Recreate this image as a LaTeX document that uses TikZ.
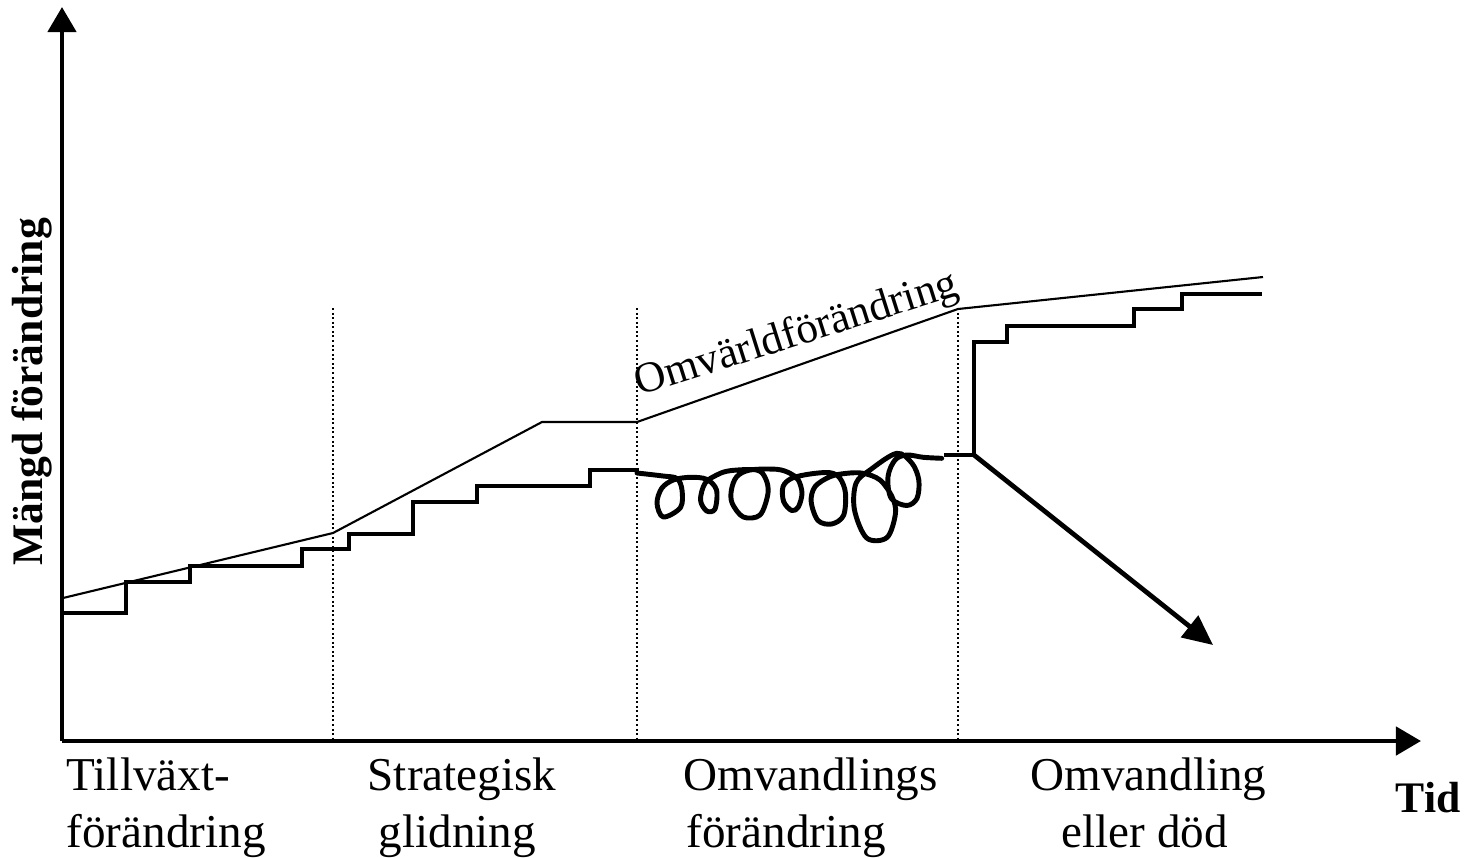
\documentclass[tikz,border=0pt]{standalone}
\usepackage{fontspec}
\setmainfont{Liberation Serif}
\usetikzlibrary{arrows.meta}
\begin{document}
\begin{tikzpicture}[x=0.01cm,y=-0.01cm,
  thickln/.style={line width=1.35pt, line join=miter},
  loopln/.style={line width=1.4pt, line join=round, line cap=round},
  thinln/.style={line width=0.6pt},
  axisln/.style={line width=1.3pt},
  dotln/.style={line width=0.45pt, dash pattern=on 0.55pt off 0.75pt},
  lbl/.style={font=\fontsize{13.4}{16}\selectfont, inner sep=0pt, anchor=base west},
  blbl/.style={font=\fontsize{12.4}{15}\selectfont\bfseries, inner sep=0pt},
  tip/.style={-{Triangle[length=0.25cm,width=0.28cm]}},
  ]
\useasboundingbox (0,0) rectangle (1472,857);

% axes
\coordinate (O) at (62,741);
\coordinate (ytop) at (62,7);
\coordinate (xend) at (1421,741);
\draw[axisln,tip] (O) -- (ytop);
\draw[axisln,tip] (O) -- (xend);

% dotted phase separators
\coordinate (d1t) at (333,308); \coordinate (d1b) at (333,740);
\coordinate (d2t) at (637,308); \coordinate (d2b) at (637,740);
\coordinate (d3t) at (958,308); \coordinate (d3b) at (958,740);
\draw[dotln] (d1t) -- (d1b);
\draw[dotln] (d2t) -- (d2b);
\draw[dotln] (d3t) -- (d3b);

% environment change line
\draw[thinln] (63,598) -- (333,533) -- (542,422) -- (637,422) -- (958,309) -- (1263,277);
\node[font=\fontsize{12.3}{14}\selectfont, inner sep=0pt, anchor=base west, rotate=17.5] (omv) at (639,396) {Omvärldförändring};

% step line (growth + strategic drift)
\draw[thickln] (63,613) -- (126,613) -- (126,582) -- (190,582) -- (190,566) -- (302,566)
  -- (302,549) -- (349,549) -- (349,534) -- (413,534) -- (413,502) -- (477,502)
  -- (477,486) -- (590,486) -- (590,470) -- (637,470) -- (637,473);

% loops (transformation change)
\draw[loopln] plot[smooth, tension=0.55] coordinates {
  (637,473) (663,476) (677,478.5) (682,490) (680.5,507.5) (663.3,517) (657,503.3)
  (661.7,488.3) (673.3,480) (690,477.3) (706.7,479.3) (716.5,490) (715,509) (706.7,511)
  (700.5,500) (705,483.3) (716.7,475) (730,470.7) (756.7,470) (765.5,478.3) (768,493.3)
  (760,515) (743.3,517) (732.2,503.3) (731.4,490) (736.7,476.7) (750,470) (776.7,469.3)
  (790,473.3) (798.3,480) (802,493.3) (798.3,507) (791.7,510.5) (783.7,501.7) (783,486.7)
  (791.7,478.3) (810,474) (830,472.7) (840,478.3) (845.5,493.3) (843.5,515.5) (831.7,524)
  (818,520.5) (811.2,501.7) (815,486.7) (830,476.7) (846.7,473.3) (863.3,473.3) (880,480)
  (892,496.7) (895.5,513.3) (887,537.5) (866.7,538) (854.5,510) (856,483.3) (870,470)
  (896.7,453.3) (912,463.3) (918.8,480) (917,498.3) (906.7,505.5) (891.2,498.3)
  (888,476.7) (895,460) (906.7,455) (923.3,457.3) (941.7,458.3)};

% transformation or death
\coordinate (fork) at (974,455);
\coordinate (deathtip) at (1213,645);
\draw[thickln] (944,455) -- (fork) -- (974,342) -- (1007,342) -- (1007,326) -- (1134,326)
  -- (1134,309) -- (1182,309) -- (1182,294) -- (1262,294);
\draw[thickln,-{Triangle[length=0.3cm,width=0.27cm]}] (fork) -- (deathtip);

% labels
\node[blbl, rotate=90, anchor=base] (ylab) at (42,392) {Mängd förändring};
\node[blbl, anchor=base west] (xlab) at (1395,812) {Tid};

\node[lbl] (p1a) at (66,790) {Tillväxt-};
\node[lbl] (p1b) at (66,847) {förändring};
\node[lbl] (p2a) at (367,790) {Strategisk};
\node[lbl] (p2b) at (378,847) {glidning};
\node[lbl] (p3a) at (683,790) {Omvandlings};
\node[lbl] (p3b) at (686,847) {förändring};
\node[lbl] (p4a) at (1030,790) {Omvandling};
\node[lbl] (p4b) at (1061,847) {eller död};
\end{tikzpicture}
\end{document}
